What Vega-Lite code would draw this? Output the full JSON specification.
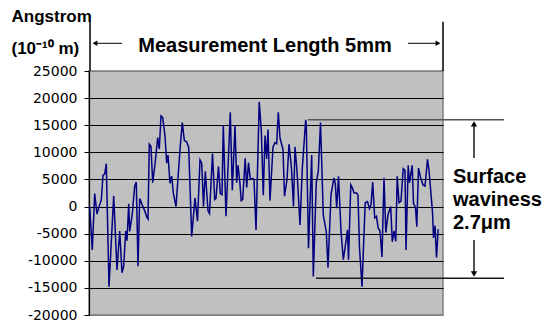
{
  "$schema": "https://vega.github.io/schema/vega-lite/v6.json",
  "width": 354,
  "height": 244,
  "autosize": {"type": "none"},
  "padding": {"left": 89, "top": 71, "right": 99, "bottom": 7},
  "background": "white",
  "config": {"view": {"fill": "#c0c0c0", "stroke": "#808080", "strokeWidth": 1.5}},
  "resolve": {"axis": {"x": "independent", "y": "independent"}},
  "datasets": {
    "profile": [
      {"position": 0.7, "height": 0}, {"position": 3.3, "height": -8000}, {"position": 5.7, "height": 2400},
      {"position": 8, "height": -1400}, {"position": 10.7, "height": 400}, {"position": 12.3, "height": 1200},
      {"position": 14, "height": 5800}, {"position": 15.7, "height": 6000}, {"position": 17.3, "height": 7900},
      {"position": 20, "height": -14800}, {"position": 24.7, "height": 2000}, {"position": 28, "height": -11700},
      {"position": 30.7, "height": -4500}, {"position": 33, "height": -12200}, {"position": 34.7, "height": -11000},
      {"position": 36.7, "height": -4500}, {"position": 38, "height": -6300}, {"position": 39.7, "height": 500},
      {"position": 40.7, "height": -4600}, {"position": 43.3, "height": -1300}, {"position": 45.7, "height": 3800},
      {"position": 47.3, "height": 4500}, {"position": 49, "height": -11000}, {"position": 50.7, "height": 1500},
      {"position": 53, "height": 400}, {"position": 55.7, "height": -800}, {"position": 58, "height": -2000},
      {"position": 59, "height": -2300}, {"position": 60.3, "height": 11500}, {"position": 62, "height": 11100},
      {"position": 63.7, "height": 4400}, {"position": 66, "height": 7800}, {"position": 68.7, "height": 12700},
      {"position": 70.3, "height": 10600}, {"position": 72, "height": 16700}, {"position": 73.7, "height": 16400},
      {"position": 76, "height": 13000}, {"position": 77.7, "height": 8000}, {"position": 79, "height": 9500},
      {"position": 81, "height": 4300}, {"position": 82.7, "height": 5600}, {"position": 84.3, "height": 2500},
      {"position": 87, "height": 0}, {"position": 91, "height": 10500}, {"position": 93.3, "height": 15500},
      {"position": 95.3, "height": 12200}, {"position": 97.7, "height": 11900}, {"position": 99.7, "height": 10900},
      {"position": 102.7, "height": -5500}, {"position": 106, "height": 1600}, {"position": 108.5, "height": -2700},
      {"position": 111, "height": 8600}, {"position": 112.7, "height": 8000}, {"position": 114.5, "height": 0},
      {"position": 116.3, "height": 6500}, {"position": 119, "height": -800}, {"position": 120.5, "height": -1300},
      {"position": 123.5, "height": 9800}, {"position": 125.7, "height": 1300}, {"position": 127, "height": 1500},
      {"position": 129.5, "height": 7400}, {"position": 131.3, "height": 2400}, {"position": 133, "height": 2200},
      {"position": 134.3, "height": 15000}, {"position": 137, "height": -1800}, {"position": 141.3, "height": 17400},
      {"position": 143.3, "height": 3000}, {"position": 146, "height": 15000}, {"position": 147.7, "height": 4400},
      {"position": 149, "height": 7600}, {"position": 150.7, "height": 4800}, {"position": 152.2, "height": 1100},
      {"position": 153.7, "height": 1300}, {"position": 156.2, "height": 8900}, {"position": 157.7, "height": 3500},
      {"position": 159.5, "height": 8100}, {"position": 161.3, "height": 5000}, {"position": 163.7, "height": 5200},
      {"position": 165, "height": 5000}, {"position": 167, "height": -4300}, {"position": 170.2, "height": 19300},
      {"position": 172.3, "height": 14000}, {"position": 174.3, "height": 2100}, {"position": 176, "height": 13100},
      {"position": 177.7, "height": 8800}, {"position": 179, "height": 14200}, {"position": 181, "height": 1100},
      {"position": 184, "height": 11000}, {"position": 186, "height": 11800}, {"position": 187.7, "height": 11600},
      {"position": 189.3, "height": 17400}, {"position": 191, "height": 12600}, {"position": 194, "height": 10500},
      {"position": 195.5, "height": 1900}, {"position": 198, "height": 5000}, {"position": 200, "height": 11500},
      {"position": 202.5, "height": 7000}, {"position": 204.5, "height": 0}, {"position": 206, "height": 11000},
      {"position": 208, "height": 6500}, {"position": 211, "height": -3400}, {"position": 213.3, "height": 7000},
      {"position": 216.7, "height": 16000}, {"position": 217.3, "height": 15000}, {"position": 219.5, "height": -7700},
      {"position": 222.7, "height": 9500}, {"position": 224.3, "height": -12900}, {"position": 227.3, "height": 4500},
      {"position": 229.3, "height": 6500}, {"position": 231.5, "height": 15500}, {"position": 234.3, "height": -1600},
      {"position": 237.3, "height": -4700}, {"position": 239, "height": -11300}, {"position": 242, "height": 2200},
      {"position": 245, "height": 5300}, {"position": 246.3, "height": 4300}, {"position": 247.7, "height": -300},
      {"position": 249.5, "height": 5600}, {"position": 252, "height": -4500}, {"position": 254.3, "height": -9800},
      {"position": 256.5, "height": -7000}, {"position": 258.5, "height": -4300}, {"position": 259.5, "height": -9800},
      {"position": 261.8, "height": 4000}, {"position": 263.5, "height": 3400}, {"position": 265, "height": 2500},
      {"position": 267.7, "height": 2500}, {"position": 269, "height": 2100}, {"position": 270.5, "height": -7600},
      {"position": 273, "height": -14800}, {"position": 276.2, "height": 700}, {"position": 278.5, "height": 900},
      {"position": 280.5, "height": -400}, {"position": 282, "height": 300}, {"position": 283.7, "height": 4500},
      {"position": 285.7, "height": -2100}, {"position": 287.5, "height": -1800}, {"position": 289.2, "height": -4000},
      {"position": 291, "height": -4500}, {"position": 293, "height": -9300}, {"position": 295, "height": 5300},
      {"position": 296.8, "height": -4800}, {"position": 299, "height": -1500}, {"position": 301.7, "height": 0},
      {"position": 303.3, "height": -6500}, {"position": 305, "height": -4500}, {"position": 306.8, "height": -6400},
      {"position": 308.2, "height": 5600}, {"position": 310, "height": 700}, {"position": 312, "height": 1000},
      {"position": 314.2, "height": 7000}, {"position": 316, "height": 6700}, {"position": 317, "height": -8000},
      {"position": 319.2, "height": 7600}, {"position": 320.5, "height": 4400}, {"position": 323.2, "height": 7600},
      {"position": 324.5, "height": 600}, {"position": 326.5, "height": -200}, {"position": 327.8, "height": -3700},
      {"position": 329.5, "height": 7100}, {"position": 331.5, "height": 5400}, {"position": 334, "height": 4000},
      {"position": 336, "height": 3800}, {"position": 338.5, "height": 8700}, {"position": 340, "height": 6700},
      {"position": 343.5, "height": -1000}, {"position": 344.5, "height": -5800}, {"position": 346, "height": -3500},
      {"position": 347.5, "height": -9400}, {"position": 349.2, "height": -4200}
    ],
    "one": [{}]
  },
  "layer": [
    {
      "data": {"name": "profile"},
      "mark": {"type": "line", "color": "#000080", "strokeWidth": 1.5},
      "encoding": {
        "x": {"field": "position", "type": "quantitative", "scale": {"domain": [0, 354], "nice": false, "zero": false}, "axis": null},
        "y": {
          "field": "height", "type": "quantitative",
          "scale": {"domain": [-20000, 25000], "nice": false, "zero": false},
          "axis": {
            "values": [-20000, -15000, -10000, -5000, 0, 5000, 10000, 15000, 20000, 25000],
            "labelOverlap": false,
            "labelBound": false,
            "labelFlush": false,
            "labelExpr": "'' + datum.value",
            "labelFont": "DejaVu Sans", "labelFontSize": 14, "labelColor": "#000000",
            "labelPadding": 7, "tickSize": 5, "tickColor": "#000000", "domainColor": "#000000", "domainWidth": 1.2,
            "grid": true,
            "gridColor": {"condition": {"test": "datum.value === 25000 || datum.value === -20000", "value": "#808080"}, "value": "#000000"},
            "gridWidth": 1, "gridOpacity": 1,
            "title": ["Angstrom", "(10⁻¹⁰ m)"],
            "titleAngle": 0, "titleAlign": "left", "titleBaseline": "alphabetic",
            "titleX": -78, "titleY": -50, "titleLineHeight": 32,
            "titleFont": "Liberation Sans", "titleFontSize": 17, "titleFontWeight": "bold", "titleColor": "#000000"
          }
        }
      }
    },
    {"data": {"name": "one"}, "mark": {"type": "rule", "color": "#000000", "strokeWidth": 1.5},
     "encoding": {"x": {"datum": 1, "axis": null}, "y": {"datum": 25000, "axis": null}, "y2": {"datum": 34090}}},
    {"data": {"name": "one"}, "mark": {"type": "rule", "color": "#000000", "strokeWidth": 1.5},
     "encoding": {"x": {"datum": 354, "axis": null}, "y": {"datum": 25000, "axis": null}, "y2": {"datum": 34090}}},
    {"data": {"name": "one"}, "mark": {"type": "rule", "color": "#000000", "strokeWidth": 1},
     "encoding": {"x": {"datum": 7, "axis": null}, "x2": {"datum": 33}, "y": {"datum": 30110, "axis": null}}},
    {"data": {"name": "one"}, "mark": {"type": "rule", "color": "#000000", "strokeWidth": 1},
     "encoding": {"x": {"datum": 319, "axis": null}, "x2": {"datum": 349}, "y": {"datum": 30110, "axis": null}}},
    {"data": {"name": "one"}, "mark": {"type": "point", "shape": "triangle-left", "filled": true, "size": 30, "color": "#000000", "opacity": 1},
     "encoding": {"x": {"datum": 6, "axis": null}, "y": {"datum": 30110, "axis": null}}},
    {"data": {"name": "one"}, "mark": {"type": "point", "shape": "triangle-right", "filled": true, "size": 30, "color": "#000000", "opacity": 1},
     "encoding": {"x": {"datum": 349, "axis": null}, "y": {"datum": 30110, "axis": null}}},
    {"data": {"name": "one"}, "mark": {"type": "text", "text": "Measurement Length 5mm", "align": "center", "baseline": "alphabetic", "font": "Liberation Sans", "fontSize": 20, "fontWeight": "bold", "color": "#000000"},
     "encoding": {"x": {"datum": 176, "axis": null}, "y": {"datum": 28560, "axis": null}}},
    {"data": {"name": "one"}, "mark": {"type": "rule", "color": "#555555", "strokeWidth": 1.5},
     "encoding": {"x": {"datum": 219, "axis": null}, "x2": {"datum": 415}, "y": {"datum": 16000, "axis": null}}},
    {"data": {"name": "one"}, "mark": {"type": "rule", "color": "#1a1a1a", "strokeWidth": 1.5},
     "encoding": {"x": {"datum": 227, "axis": null}, "x2": {"datum": 415}, "y": {"datum": -13200, "axis": null}}},
    {"data": {"name": "one"}, "mark": {"type": "rule", "color": "#1a1a1a", "strokeWidth": 1.5},
     "encoding": {"x": {"datum": 385, "axis": null}, "y": {"datum": 15000, "axis": null}, "y2": {"datum": 8955}}},
    {"data": {"name": "one"}, "mark": {"type": "rule", "color": "#1a1a1a", "strokeWidth": 1.5},
     "encoding": {"x": {"datum": 385, "axis": null}, "y": {"datum": -6170, "axis": null}, "y2": {"datum": -12400}}},
    {"data": {"name": "one"}, "mark": {"type": "point", "shape": "triangle-up", "filled": true, "size": 40, "color": "#000000", "opacity": 1},
     "encoding": {"x": {"datum": 385, "axis": null}, "y": {"datum": 15250, "axis": null}}},
    {"data": {"name": "one"}, "mark": {"type": "point", "shape": "triangle-down", "filled": true, "size": 40, "color": "#000000", "opacity": 1},
     "encoding": {"x": {"datum": 385, "axis": null}, "y": {"datum": -12450, "axis": null}}},
    {"data": {"name": "one"}, "mark": {"type": "text", "text": ["Surface", "waviness", "2.7μm"], "lineHeight": 23, "align": "left", "baseline": "alphabetic", "font": "Liberation Sans", "fontSize": 20, "fontWeight": "bold", "color": "#000000"},
     "encoding": {"x": {"datum": 364, "axis": null}, "y": {"datum": 4290, "axis": null}}}
  ]
}
